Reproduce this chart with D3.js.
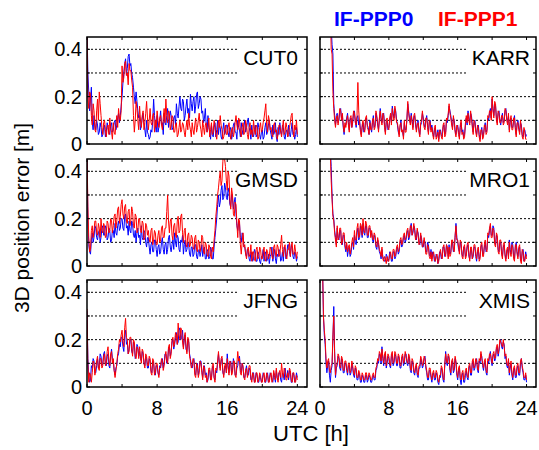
<!DOCTYPE html>
<html><head><meta charset="utf-8">
<script src="https://cdn.jsdelivr.net/npm/d3@7"></script>
<style>body{margin:0;background:#fff}svg{display:block}</style>
</head><body><svg id="c" width="539" height="450"></svg>
<script>
const stations = ["CUT0","KARR","GMSD","MRO1","JFNG","XMIS"];
const seriesNames = ["IF-PPP0","IF-PPP1"];
const hourStep = 0.1;                 // spacing of samples [h]
const xTicks = [0,4,8,12,16,20,24];
const xTickLabels = [0,8,16,24];
const yTicks = [0,0.1,0.2,0.3,0.4];
const yTickLabels = [0,0.2,0.4];
const gridValues = [0.1,0.2,0.3,0.4];

// 3D position error [cm], one value every 0.1 h from 0 h to 24 h (10 per row = 1 hour; null = no solution)
const cut0_ppp0 = [
50,30,22,14,19,24,9,6,12,8, 6,10,8,4,5,9,7,3,4,7, 8,3,5,9,7,5,4,8,9,5, 6,9,10,6,8,11,13,9,12,16,
20,26,30,34,36,29,32,37,38,33, 34,30,28,24,20,17,22,18,14,11, 12,6,8,11,13,9,6,3,10,5, 4,2,3,6,5,10,19,12,8,5,
12,5,7,10,14,8,9,4,13,9, 8,12,15,7,10,14,12,6,7,11, 12,8,17,13,11,16,20,15,14,19, 18,10,12,16,19,13,15,11,21,17,
14,18,20,13,16,21,22,15,17,20, 19,13,14,9,11,15,8,5,12,7, 5,2,8,4,3,7,9,3,6,10, 4,8,7,3,2,6,9,4,5,8,
8,5,3,6,7,2,4,8,9,5, 5,2,10,7,6,3,9,6,4,8, 10,5,7,9,11,7,5,2,8,4, 3,6,8,3,4,9,7,4,2,5,
6,2,3,7,9,4,5,8,10,6, 4,2,8,4,5,9,3,1,7,4, 9,5,4,8,7,3,2,5,6,3, 8,4,3,6,9,4,5,2,4,7, 3];
const cut0_ppp1 = [
50,20,15,22,21,12,8,17,14,6, 5,14,19,10,22,17,12,7,4,9, 10,6,3,7,8,4,11,7,5,2, 9,5,4,8,12,7,15,11,10,14,
33,26,28,34,35,29,30,25,34,31, 31,27,24,12,5,10,18,15,10,6, 16,10,7,12,14,6,9,13,18,11, 6,10,15,9,8,12,13,5,10,7,
14,10,7,11,12,8,6,11,15,9, 19,12,9,14,13,6,8,12,11,5, 5,8,9,3,4,7,10,5,6,9, 8,5,3,7,10,6,13,8,6,3,
9,6,4,8,11,5,7,10,13,8, 6,3,10,7,4,8,9,5,7,11, 3,6,9,4,5,10,8,4,2,6, 10,7,12,8,6,2,3,6,8,4,
4,7,9,5,2,6,7,3,5,9, 12,8,6,11,10,5,3,7,9,4, 5,10,8,4,2,7,9,4,6,3, 10,6,4,8,7,2,3,7,9,5,
6,9,11,14,17,8,5,12,10,6, 7,4,3,8,9,5,6,2,4,8, 8,5,3,7,10,4,5,9,7,3, 4,7,9,12,13,6,3,8,6,10, 4];
const karr_ppp0 = [
null,null,null,null,null,null,null,null,null,null, null,null,60,50,42,38,17,12,8,12, 13,9,10,14,15,11,12,7,4,8, 8,11,13,9,6,10,11,7,9,13,
14,10,7,11,12,8,10,6,4,7, 9,5,6,10,11,8,7,4,10,7, 5,9,12,7,8,13,11,8,6,10, 15,11,9,12,13,8,5,9,10,6,
7,10,12,9,16,13,11,15,14,10, 8,5,4,7,10,6,5,3,9,6, 6,10,17,14,11,9,13,10,7,11, 12,8,6,9,10,6,4,8,9,13,
11,8,7,10,12,8,5,9,10,6, 8,5,3,6,7,3,4,6,2,5, 6,4,3,7,8,4,5,10,9,12, 16,14,12,9,7,11,10,6,4,7,
8,5,3,7,9,5,6,3,4,8, 11,8,14,11,9,13,12,8,5,9, 10,6,4,7,8,4,2,5,7,3, 4,7,9,5,6,11,10,13,15,11,
19,15,12,17,16,11,9,13,14,10, 8,11,13,9,10,14,15,11,9,12, 6,9,11,7,7,10,12,7,4,8, 10,7,5,9,8,4,3,6,6,3, 4];
const karr_ppp1 = [
null,null,null,null,null,null,null,null,null,null, null,null,60,40,38,22,15,10,7,11, 12,8,11,15,14,10,13,8,5,9, 7,10,12,8,5,11,12,7,10,14,
13,9,8,12,26,14,9,5,3,8, 10,6,5,11,12,7,6,4,9,6, 6,10,11,6,7,14,12,9,5,11, 14,10,8,13,12,7,4,10,11,7,
6,11,13,8,15,12,10,16,13,9, 9,6,3,8,9,5,6,2,10,5, 5,11,18,13,10,8,12,9,6,12, 13,9,5,8,9,5,3,9,10,14,
10,7,6,11,11,7,4,10,9,5, 7,4,2,7,8,2,3,5,1,6, 5,3,2,8,9,3,4,11,10,13, 17,13,11,8,6,12,9,5,3,8,
7,4,2,8,10,4,5,2,3,9, 12,9,13,10,8,14,11,7,4,10, 9,5,3,8,7,3,1,6,6,2, 3,8,8,4,5,12,11,14,14,10,
20,14,11,18,17,10,8,14,13,9, 9,12,12,8,9,15,14,10,8,13, 5,10,12,6,6,11,11,6,3,9, 9,6,4,10,7,3,2,7,5,2, 2];
const gmsd_ppp0 = [
50,20,9,6,5,11,14,10,12,17, 16,12,11,14,15,10,12,16,17,13, 13,17,16,11,12,16,15,10,11,15, 15,12,18,14,13,17,19,15,16,20,
20,16,15,21,22,16,17,13,19,15, 14,19,18,13,12,15,10,14,16,12, 13,9,17,12,11,15,14,10,8,12, 12,8,5,9,10,6,6,11,11,7,
4,8,9,5,6,10,12,7,5,9, 10,5,7,12,13,8,6,9,11,7, 14,10,8,13,12,7,6,11,10,13, 5,9,11,6,7,10,9,5,4,8,
8,4,5,9,9,4,3,6,7,4, 6,9,4,7,8,3,3,7,6,3, 4,8,7,3,3,8,12,16,20,26, 30,25,27,32,34,28,29,35,33,29,
28,33,31,26,25,30,29,24,27,29, 22,17,15,19,18,12,10,14,13,8, 8,5,4,7,6,3,2,6,5,2, 3,7,6,2,2,6,5,2,1,4,
4,7,2,5,6,2,3,5,1,4, 5,8,2,5,7,3,1,5,4,7, 6,2,3,6,2,8,7,3,5,9, 9,6,4,9,8,4,3,6,5,2, 4];
const gmsd_ppp1 = [
50,25,12,6,7,15,17,12,15,19, 19,14,13,18,16,12,20,15,14,18, 17,12,13,19,18,14,15,20,19,14, 17,21,22,16,19,24,25,18,21,26,
28,22,20,25,26,19,18,23,24,17, 19,25,23,17,16,22,21,14,15,20, 20,15,14,19,18,11,12,18,17,13, 15,11,10,15,16,9,11,15,14,9,
9,13,15,10,11,16,17,12,12,16, 16,23,30,19,14,19,20,13,11,17, 18,13,12,19,21,14,15,21,22,14, 10,15,16,9,8,13,14,8,9,13,
12,8,7,12,13,7,6,11,10,6, 8,13,12,6,5,10,9,5,4,9, 8,4,3,8,6,11,15,21,25,30, 33,37,40,34,36,44,50,45,42,36,
32,40,38,28,24,33,30,22,21,27, 26,18,12,20,19,9,5,10,14,8, 9,5,3,7,8,4,5,9,2,6, 6,3,2,7,8,3,4,8,7,3,
3,6,8,3,2,7,6,3,4,8, 7,4,3,8,9,5,4,9,8,4, 5,9,13,7,4,8,9,4,3,7, 7,10,4,8,10,5,5,9,6,3, 6];
const mro1_ppp0 = [
null,null,null,null,50,50,50,50,50,50, 50,50,50,42,30,22,20,15,12,9, 16,12,11,15,15,10,9,13,13,8, 6,9,4,7,8,4,5,9,10,7,
13,10,9,14,16,11,12,17,15,12, 18,14,13,17,17,12,12,16,16,13, 14,11,10,13,12,8,7,11,9,6, 5,3,7,4,3,2,2,5,4,2,
3,6,5,2,2,6,6,3,4,7, 8,5,6,10,11,8,9,12,13,10, 11,14,15,11,12,16,18,13,14,17, 16,12,11,15,14,10,9,13,12,8,
8,11,10,6,6,10,9,5,4,7, 3,6,5,2,2,5,4,1,3,6, 6,3,4,8,8,4,5,9,7,4, 9,5,6,10,10,6,7,12,18,12,
10,7,6,10,9,5,4,8,8,4, 5,8,9,4,3,7,7,3,4,8, 8,4,2,6,7,3,4,8,9,5, 5,8,10,6,7,13,12,15,17,13,
13,17,16,10,9,13,12,7,6,10, 10,6,4,8,9,5,3,6,7,4, 11,7,5,10,9,4,3,8,10,6, 4,7,8,3,2,6,7,2,3,6, 4];
const mro1_ppp1 = [
null,null,null,null,50,50,50,50,50,50, 50,50,48,36,28,21,19,14,11,8, 17,11,12,16,16,9,10,14,14,9, 7,10,6,8,9,5,7,10,12,8,
15,11,11,16,18,12,13,18,17,13, 20,15,14,19,18,13,13,17,17,12, 15,12,11,14,13,9,8,12,10,7, 6,4,8,3,2,4,3,1,4,2,
2,5,6,3,3,7,7,4,5,8, 9,6,7,11,12,9,10,13,14,11, 12,15,16,12,13,17,17,13,15,18, 15,11,12,16,13,9,10,14,11,8,
9,12,9,5,5,9,8,4,3,6, 2,5,6,3,2,4,5,1,2,5, 7,4,3,8,9,5,4,9,8,3, 8,4,5,11,11,7,6,13,17,11,
11,8,5,11,10,4,3,8,9,3, 4,9,10,5,2,8,8,3,5,9, 9,5,3,7,8,2,3,9,10,4, 4,9,11,7,6,14,13,16,18,12,
12,16,15,9,8,14,13,6,5,11, 11,5,3,9,10,4,2,7,8,3, 10,6,4,9,8,3,2,9,9,5, 3,8,9,2,1,7,6,2,2,5, 3];
const jfng_ppp0 = [
32,12,5,2,3,9,8,12,11,6, 6,9,12,8,9,14,13,9,10,14, 15,10,9,13,14,9,8,13,16,12, 11,7,5,8,9,13,14,18,17,21,
21,17,15,22,24,18,19,14,16,20, 20,15,14,19,18,12,13,18,17,13, 15,12,11,15,14,10,9,13,12,8, 8,12,11,7,6,11,10,6,5,9,
9,6,5,9,8,11,12,8,10,14, 14,10,11,16,17,13,15,19,20,16, 18,21,23,18,19,24,25,20,21,24, 17,20,22,16,15,20,19,14,12,9,
8,11,12,6,5,9,10,5,7,11, 11,7,4,8,9,5,6,2,3,7, 7,3,4,8,9,4,3,7,6,10, 14,10,8,11,12,6,5,8,9,6,
14,9,6,10,11,6,7,12,10,5, 5,8,9,12,13,7,6,10,8,4, 4,7,9,5,5,8,7,3,3,6, 6,2,3,6,5,2,2,5,4,2,
3,6,5,2,2,5,6,2,3,6, 5,3,2,6,4,2,7,4,3,6, 6,3,2,6,5,3,8,5,4,7, 3,7,6,2,2,6,5,2,3,6, 4];
const jfng_ppp1 = [
33,10,2,6,5,2,6,11,10,5, 8,11,13,8,7,12,12,8,9,13, 14,9,10,15,17,11,9,14,15,10, 12,7,4,7,10,14,16,20,19,22,
24,19,17,25,29,21,20,14,15,21, 21,16,13,20,19,13,12,17,16,12, 17,13,10,16,15,10,8,14,13,9, 9,13,12,6,5,12,11,5,6,10,
10,6,4,8,9,12,11,7,9,13, 15,11,10,17,18,12,14,20,21,17, 19,23,22,18,27,22,20,25,24,19, 16,21,23,17,14,21,20,13,11,8,
9,12,11,5,4,10,9,4,6,11, 10,6,3,9,8,4,5,2,4,8, 8,3,3,9,10,4,2,8,7,11, 15,10,7,12,13,7,4,9,10,6,
12,8,5,11,10,5,6,11,11,5, 4,10,15,11,12,6,5,10,9,4, 3,7,8,4,6,9,9,4,2,6, 5,2,2,6,6,2,3,6,5,2,
2,5,6,2,3,6,5,2,2,5, 6,2,3,7,5,3,8,4,2,6, 7,4,10,6,4,8,7,3,3,6, 4,8,7,3,2,6,6,2,2,5, 3];
const xmis_ppp0 = [
50,50,50,50,30,22,18,10,6,9, 11,5,2,7,9,20,34,15,4,8, 9,13,12,8,7,12,11,6,6,10, 10,7,5,9,9,5,6,10,8,5,
4,8,7,3,3,6,5,2,2,5, 4,2,2,5,5,2,3,5,4,2, 2,4,5,3,3,7,8,11,10,14, 13,10,17,12,9,13,14,8,10,13,
12,9,8,13,14,9,10,14,13,9, 9,13,12,8,8,12,13,9,10,14, 14,10,9,13,12,7,6,11,10,6, 5,8,9,5,4,8,8,12,11,8,
9,12,13,8,6,3,3,7,7,4, 2,5,6,3,3,6,5,2,1,4, 4,8,7,3,2,9,15,10,9,13, 12,7,5,10,11,6,7,12,10,5,
3,7,8,3,1,5,6,2,2,5, 7,4,3,8,9,5,5,10,11,7, 8,11,12,7,6,11,10,14,13,9, 7,10,11,6,5,11,10,13,15,11,
9,13,14,11,12,16,17,13,15,19, 20,17,16,19,18,12,13,9,8,11, 5,8,10,5,3,7,8,4,4,8, 9,5,5,10,12,8,6,3,3,5, 2];
const xmis_ppp1 = [
50,50,50,50,30,24,20,12,8,11, 12,7,6,9,10,22,30,14,5,9, 10,14,13,9,8,13,12,7,7,11, 11,8,6,10,10,6,7,11,9,6,
5,9,8,4,4,7,6,3,3,6, 5,3,3,6,6,3,4,6,5,3, 3,5,6,4,4,8,9,12,11,15, 14,11,16,13,10,14,15,9,11,14,
13,10,9,14,15,10,11,15,14,10, 10,14,13,9,9,13,14,10,11,15, 13,11,10,14,13,8,7,12,11,7, 6,9,10,6,5,9,9,13,12,9,
10,13,12,9,7,4,4,8,8,5, 3,6,7,4,4,7,6,3,2,5, 5,9,8,4,3,10,14,11,10,14, 13,8,6,11,12,7,8,13,11,6,
4,8,9,4,3,6,7,3,4,7, 8,5,4,9,10,6,6,11,12,8, 9,12,11,8,7,12,11,15,12,10, 8,11,12,7,6,12,11,14,14,12,
10,14,15,12,13,17,18,14,16,20, 19,18,17,20,17,13,14,10,9,12, 6,9,11,6,4,8,9,5,5,9, 10,6,6,11,12,9,7,4,4,6, 3];

const panelSeries = [
  [cut0_ppp0, cut0_ppp1], [karr_ppp0, karr_ppp1],
  [gmsd_ppp0, gmsd_ppp1], [mro1_ppp0, mro1_ppp1],
  [jfng_ppp0, jfng_ppp1], [xmis_ppp0, xmis_ppp1]
];
const colors = ["#0000ff", "#ff0000"];

const svg = d3.select("#c");
const FONT = "Arial, 'Liberation Sans', Helvetica, sans-serif";
const colX = [{x:87, w:220}, {x:320, w:216}];
const rowY = [37, 159, 280];
const H = 107;

stations.forEach((name, i) => {
  const col = i % 2, row = Math.floor(i / 2);
  const px = colX[col].x, pw = colX[col].w, py = rowY[row];
  const x = d3.scaleLinear().domain([0, 25.1]).range([px, px + pw]);
  const y = d3.scaleLinear().domain([0, 0.452]).range([py + H, py]);
  const g = svg.append("g");
  const clipId = "clip" + i;
  svg.append("clipPath").attr("id", clipId).append("rect")
    .attr("x", px).attr("y", py).attr("width", pw).attr("height", H);

  g.selectAll(".grid").data(gridValues).enter().append("line")
    .attr("x1", px).attr("x2", px + pw)
    .attr("y1", d => y(d)).attr("y2", d => y(d))
    .attr("stroke", "#000").attr("stroke-width", 1)
    .attr("stroke-dasharray", "2,2");

  g.append("rect").attr("x", x(17.2)).attr("y", py + 1)
    .attr("width", px + pw - 1 - x(17.2)).attr("height", 41).attr("fill", "#fff");

  const line = d3.line()
    .defined(d => d.v !== null)
    .x(d => x(d.t)).y(d => y(d.v / 100));
  panelSeries[i].forEach((arr, k) => {
    const pts = arr.map((v, j) => ({t: j * hourStep, v}));
    g.append("path").datum(pts)
      .attr("clip-path", `url(#${clipId})`)
      .attr("d", line).attr("fill", "none")
      .attr("stroke", colors[k]).attr("stroke-width", 1)
      .attr("stroke-linejoin", "round");
  });

  g.append("text").attr("x", col === 0 ? 298 : 530).attr("y", py + 28)
    .attr("text-anchor", "end").attr("font-family", FONT).attr("font-size", 21)
    .text(name);

  const tl = 3;
  xTicks.forEach(t => {
    g.append("line").attr("x1", x(t)).attr("x2", x(t)).attr("y1", py + H).attr("y2", py + H - tl).attr("stroke", "#000");
    g.append("line").attr("x1", x(t)).attr("x2", x(t)).attr("y1", py).attr("y2", py + tl).attr("stroke", "#000");
  });
  yTicks.forEach(t => {
    g.append("line").attr("x1", px).attr("x2", px + tl).attr("y1", y(t)).attr("y2", y(t)).attr("stroke", "#000");
    g.append("line").attr("x1", px + pw).attr("x2", px + pw - tl).attr("y1", y(t)).attr("y2", y(t)).attr("stroke", "#000");
  });

  g.append("rect").attr("x", px).attr("y", py).attr("width", pw).attr("height", H)
    .attr("fill", "none").attr("stroke", "#000").attr("stroke-width", 1.5);

  if (col === 0) {
    yTickLabels.forEach(t => {
      g.append("text").attr("x", px - 5).attr("y", y(t) + 7)
        .attr("text-anchor", "end").attr("font-family", FONT).attr("font-size", 20)
        .text(t === 0 ? "0" : d3.format(".1f")(t));
    });
  }
  if (row === 2) {
    xTickLabels.forEach(t => {
      g.append("text").attr("x", x(t)).attr("y", 415)
        .attr("text-anchor", "middle").attr("font-family", FONT).attr("font-size", 20)
        .text(t);
    });
  }
});

svg.append("text").attr("x", 311).attr("y", 441).attr("text-anchor", "middle")
  .attr("font-family", FONT).attr("font-size", 22).text("UTC [h]");
svg.append("text").attr("transform", "translate(29,218) rotate(-90)")
  .attr("text-anchor", "middle").attr("font-family", FONT).attr("font-size", 21)
  .text("3D position error [m]");

svg.append("text").attr("x", 334).attr("y", 26).attr("font-family", FONT)
  .attr("font-size", 21).attr("font-weight", "bold").attr("fill", colors[0]).text(seriesNames[0]);
svg.append("text").attr("x", 438).attr("y", 26).attr("font-family", FONT)
  .attr("font-size", 21).attr("font-weight", "bold").attr("fill", colors[1]).text(seriesNames[1]);
</script></body></html>
